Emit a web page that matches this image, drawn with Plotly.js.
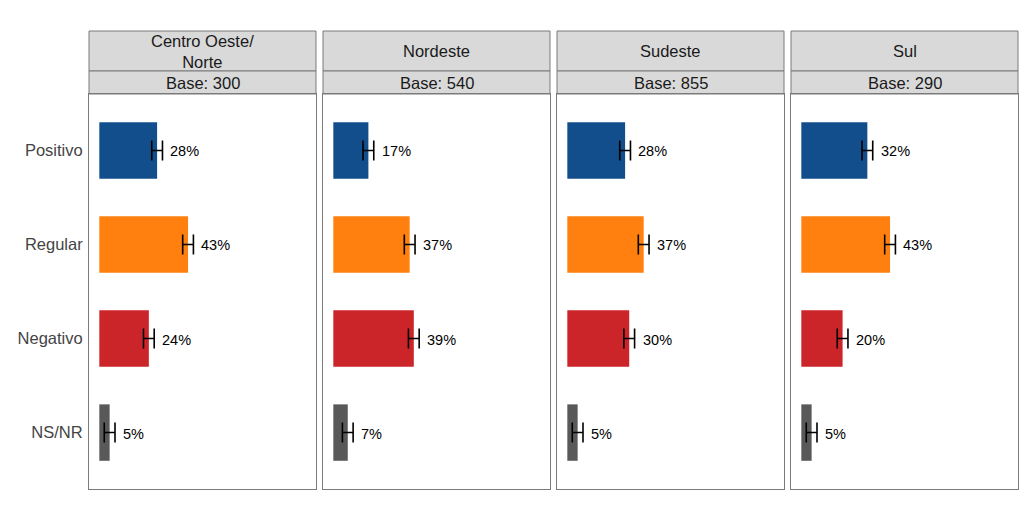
<!DOCTYPE html>
<html>
<head>
<meta charset="utf-8">
<script src="https://cdn.plot.ly/plotly-3.0.1.min.js"></script>
<style>html,body{margin:0;padding:0;background:#fff;}#chart{width:1024px;height:512px;}</style>
</head>
<body>
<div id="chart"></div>
<script>
const categories = ['Positivo', 'Regular', 'Negativo', 'NS/NR'];
const barColors = ['#134E8C', '#FF800E', '#CC2529', '#595959'];
const regions = ['Centro Oeste/<br>Norte', 'Nordeste', 'Sudeste', 'Sul'];
const bases = ['Base: 300', 'Base: 540', 'Base: 855', 'Base: 290'];

const centroOesteNorte = [28, 43, 24, 5];
const nordeste = [17, 37, 39, 7];
const sudeste = [28, 37, 30, 5];
const sul = [32, 43, 20, 5];

const errCentroOesteNorte = [2.6, 2.6, 2.6, 2.6];
const errNordeste = [2.6, 2.6, 2.6, 2.6];
const errSudeste = [2.6, 2.6, 2.6, 2.6];
const errSul = [2.6, 2.6, 2.6, 2.6];

const series = [centroOesteNorte, nordeste, sudeste, sul];
const errors = [errCentroOesteNorte, errNordeste, errSudeste, errSul];

const W = 1024, H = 512;
const panelLeft = [89, 323, 557, 791];
const panelWidth = 227;
const plotTop = 94, plotBottom = 489;
const stripTop = 31, stripMid = 71;
const borderColor = '#7a7a7a';
const fontFamily = 'Liberation Sans, Arial, sans-serif';

const data = [];
const layout = {
  width: W, height: H,
  margin: {l: 0, r: 0, t: 0, b: 0},
  paper_bgcolor: '#ffffff',
  plot_bgcolor: '#ffffff',
  showlegend: false,
  font: {family: fontFamily, color: '#000000'},
  shapes: [],
  annotations: [],
  bargap: 0.4
};

const px = x => x / W;
const py = y => 1 - y / H;

series.forEach((vals, i) => {
  const n = i + 1;
  const xa = n === 1 ? 'x' : 'x' + n;
  const ya = n === 1 ? 'y' : 'y' + n;
  data.push({
    type: 'bar',
    orientation: 'h',
    x: vals,
    y: categories,
    xaxis: xa, yaxis: ya,
    width: 0.6,
    marker: {color: barColors, line: {width: 0}},
    error_x: {type: 'data', array: errors[i], visible: true, color: '#000000', thickness: 1.6, width: 10},
    hoverinfo: 'none'
  });
  const xKey = n === 1 ? 'xaxis' : 'xaxis' + n;
  const yKey = n === 1 ? 'yaxis' : 'yaxis' + n;
  layout[xKey] = {
    domain: [px(panelLeft[i]), px(panelLeft[i] + panelWidth)],
    range: [-5, 105],
    anchor: ya,
    showgrid: false, zeroline: false,
    showticklabels: false, ticks: '',
    showline: true, mirror: true, linecolor: borderColor, linewidth: 1,
    fixedrange: true
  };
  layout[yKey] = {
    domain: [py(plotBottom), py(plotTop)],
    type: 'category',
    categoryorder: 'array', categoryarray: categories,
    range: [3.6, -0.6],
    anchor: xa,
    showgrid: false, zeroline: false,
    showticklabels: n === 1, ticks: '',
    ticklabelstandoff: 2,
    tickfont: {family: fontFamily, size: 16.5, color: '#444444'},
    showline: true, mirror: true, linecolor: borderColor, linewidth: 1,
    fixedrange: true
  };
  // value labels
  vals.forEach((v, k) => {
    layout.annotations.push({
      x: v + errors[i][k], y: categories[k], xref: xa, yref: ya,
      text: v + '%', showarrow: false, xanchor: 'left', yanchor: 'middle',
      xshift: 6, yshift: -1, font: {family: fontFamily, size: 14.5, color: '#000000'}
    });
  });
  // strips
  const x0 = px(panelLeft[i]), x1 = px(panelLeft[i] + panelWidth);
  layout.shapes.push({type: 'rect', xref: 'paper', yref: 'paper', x0: x0, x1: x1,
    y0: py(stripMid), y1: py(stripTop), fillcolor: '#D9D9D9', line: {color: borderColor, width: 1}, layer: 'below'});
  layout.shapes.push({type: 'rect', xref: 'paper', yref: 'paper', x0: x0, x1: x1,
    y0: py(plotTop), y1: py(stripMid), fillcolor: '#D9D9D9', line: {color: borderColor, width: 1}, layer: 'below'});
  layout.annotations.push({
    xref: 'paper', yref: 'paper', x: (x0 + x1) / 2, y: py((stripTop + stripMid) / 2),
    text: regions[i], showarrow: false, xanchor: 'center', yanchor: 'middle',
    font: {family: fontFamily, size: 16.5, color: '#1a1a1a'}
  });
  layout.annotations.push({
    xref: 'paper', yref: 'paper', x: (x0 + x1) / 2, y: py((stripMid + plotTop) / 2),
    text: bases[i], showarrow: false, xanchor: 'center', yanchor: 'middle',
    font: {family: fontFamily, size: 16.5, color: '#1a1a1a'}
  });
});

Plotly.newPlot('chart', data, layout, {displayModeBar: false, staticPlot: true});
</script>
</body>
</html>
